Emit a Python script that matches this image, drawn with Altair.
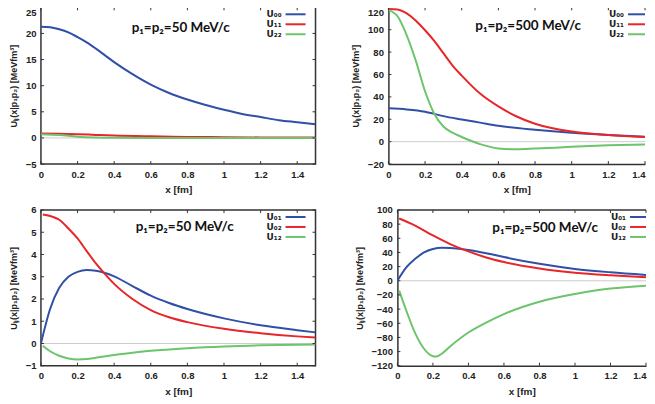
import altair as alt
import pandas as pd

# ---------------- data ----------------
TL_U00_x = [0, 0.05, 0.1, 0.15, 0.2, 0.25, 0.3, 0.35, 0.4, 0.5, 0.6, 0.7, 0.8, 0.9, 1.0, 1.1, 1.2, 1.3, 1.4, 1.5]
TL_U00_y = [21.3, 21.2, 20.8, 20.2, 19.3, 18.3, 17.1, 15.8, 14.5, 12.2, 10.2, 8.6, 7.35, 6.3, 5.4, 4.6, 4.0, 3.4, 3.0, 2.6]
TL_U11_x = [0, 0.1, 0.2, 0.3, 0.4, 0.6, 0.8, 1.0, 1.2, 1.5]
TL_U11_y = [0.85, 0.82, 0.72, 0.58, 0.45, 0.3, 0.2, 0.15, 0.1, 0.07]
TL_U22_x = [0, 0.1, 0.2, 0.3, 0.4, 0.6, 0.8, 1.0, 1.2, 1.5]
TL_U22_y = [0.7, 0.55, 0.25, 0.1, 0.04, 0.01, 0.0, 0.0, 0.0, 0.0]

TR_U00_x = [0, 0.1, 0.2, 0.3, 0.4, 0.5, 0.6, 0.8, 1.0, 1.2, 1.4, 1.5]
TR_U00_y = [29.8, 28.8, 26.8, 22.8, 19.8, 17.0, 14.2, 10.6, 7.9, 6.0, 4.5, 4.0]
TR_U11_x = [0, 0.05, 0.1, 0.15, 0.2, 0.25, 0.3, 0.35, 0.4, 0.5, 0.6, 0.7, 0.8, 1.0, 1.2, 1.4, 1.5]
TR_U11_y = [118.5, 118, 114.5, 108, 99.5, 90, 79, 68, 59, 43, 31.5, 22.5, 16, 9, 6, 4.2, 3.5]
TR_U22_x = [0, 0.05, 0.1, 0.15, 0.2, 0.25, 0.3, 0.35, 0.4, 0.45, 0.5, 0.6, 0.7, 0.8, 1.0, 1.2, 1.4, 1.5]
TR_U22_y = [117.5, 112, 95, 72, 45, 25, 13.6, 8, 4.2, 0.8, -2.2, -6, -6.8, -6.2, -4.6, -3.3, -2.5, -2.2]

BL_U01_x = [0, 0.05, 0.1, 0.15, 0.2, 0.25, 0.3, 0.4, 0.5, 0.6, 0.7, 0.8, 1.0, 1.2, 1.4, 1.5]
BL_U01_y = [0, 1.55, 2.5, 3.0, 3.22, 3.3, 3.27, 3.02, 2.58, 2.15, 1.82, 1.55, 1.13, 0.82, 0.6, 0.5]
BL_U02_x = [0.01, 0.05, 0.1, 0.15, 0.2, 0.25, 0.3, 0.35, 0.4, 0.5, 0.6, 0.7, 0.8, 1.0, 1.2, 1.4, 1.5]
BL_U02_y = [5.8, 5.73, 5.56, 5.17, 4.72, 4.15, 3.6, 3.12, 2.68, 2.0, 1.5, 1.18, 0.96, 0.66, 0.46, 0.32, 0.27]
BL_U12_x = [0.01, 0.05, 0.1, 0.15, 0.2, 0.25, 0.3, 0.4, 0.5, 0.6, 0.8, 1.0, 1.2, 1.4, 1.5]
BL_U12_y = [-0.1, -0.35, -0.55, -0.67, -0.72, -0.7, -0.64, -0.52, -0.42, -0.33, -0.21, -0.13, -0.08, -0.06, -0.05]

BR_U01_x = [0, 0.05, 0.1, 0.15, 0.2, 0.25, 0.3, 0.4, 0.5, 0.6, 0.8, 1.0, 1.2, 1.4, 1.5]
BR_U01_y = [0, 19, 31, 40, 45, 46.8, 46.3, 43.5, 39, 33.5, 24, 16.8, 12, 8.3, 7]
BR_U02_x = [0.01, 0.1, 0.2, 0.3, 0.4, 0.5, 0.6, 0.8, 1.0, 1.2, 1.4, 1.5]
BR_U02_y = [88, 78, 64, 51.5, 41.5, 33, 26.5, 17.5, 11.5, 7.8, 5, 4]
BR_U12_x = [0.01, 0.05, 0.1, 0.15, 0.2, 0.22, 0.25, 0.3, 0.4, 0.5, 0.6, 0.8, 1.0, 1.2, 1.4, 1.5]
BR_U12_y = [-14, -42, -74, -96, -106.5, -107, -103, -92, -73, -59, -47, -29.5, -18.7, -11, -7, -5.5]

X_TICKS = [0, 0.2, 0.4, 0.6, 0.8, 1.0, 1.2, 1.4]
TL_YTICKS = [-5, 0, 5, 10, 15, 20, 25]
TR_YTICKS = [-20, 0, 20, 40, 60, 80, 100, 120]
BL_YTICKS = [-1, 0, 1, 2, 3, 4, 5, 6]
BR_YTICKS = [-120, -100, -80, -60, -40, -20, 0, 20, 40, 60, 80, 100]

TITLE_50 = "p\u2081=p\u2082=50 MeV/c"
TITLE_500 = "p\u2081=p\u2082=500 MeV/c"
Y_TITLE = "U\u1d62\u2c7c(x|p\u2081p\u2082) [MeVfm\u00b3]"

COLORS = ["#3050a8", "#e8262a", "#6cc46c"]
FRAME = "#333333"
LABEL_FONT = "Liberation Sans"


def panel(names, xs, ys, title, ydom, yticks, width, height, xmax, right_clipped,
          top_row, title_pos, leg):
    rows = []
    for n, xv, yv in zip(names, xs, ys):
        for a, b in zip(xv, yv):
            rows.append({"x": a, "v": b, "s": n})
    df = pd.DataFrame(rows)

    xscale = alt.Scale(domain=[0, xmax], nice=False, zero=False)
    yscale = alt.Scale(domain=ydom, nice=False, zero=False)

    xalign = ({"condition": {"test": f"datum.value == {xmax}", "value": "right"},
               "value": "center"} if right_clipped else "center")
    ybase = ({"condition": {"test": f"datum.value == {ydom[1]}", "value": "top"},
              "value": "middle"} if top_row else "middle")
    xaxis = alt.Axis(values=X_TICKS, format="~g", title="x [fm]", ticks=False,
                     grid=False, labelOverlap=False, labelFont=LABEL_FONT,
                     labelFontWeight="bold", labelFontSize=9.5, labelColor="#222",
                     labelPadding=5, labelAlign=xalign,
                     titleFont=LABEL_FONT, titleFontWeight="bold", titleFontSize=10,
                     titleColor="#222", titlePadding=6,
                     domain=right_clipped, domainColor=FRAME, domainWidth=1.5)
    yaxis = alt.Axis(values=yticks, title=Y_TITLE, ticks=False, grid=False,
                     labelOverlap=False, labelFont=LABEL_FONT, labelFontWeight="bold",
                     labelFontSize=9.5, labelColor="#222", labelPadding=5,
                     labelBaseline=ybase,
                     titleFont=LABEL_FONT, titleFontWeight="bold", titleFontSize=9,
                     titleColor="#222", titlePadding=7,
                     domain=right_clipped, domainColor=FRAME, domainWidth=1.5)

    zero = alt.Chart(pd.DataFrame({"z": [0]})).mark_rule(color="#cccccc", strokeWidth=1).encode(
        y=alt.Y("z:Q", scale=yscale, axis=yaxis)
    )

    lines = alt.Chart(df).transform_filter(f"datum.x <= {xmax}").mark_line(
        strokeWidth=2, interpolate="monotone", clip=True).encode(
        x=alt.X("x:Q", scale=xscale, axis=xaxis),
        y=alt.Y("v:Q", scale=yscale, axis=yaxis),
        color=alt.Color("s:N", scale=alt.Scale(domain=names, range=COLORS), legend=None),
        order=alt.Order("x:Q"),
    )

    tx = pd.DataFrame({"t": X_TICKS})
    ty = pd.DataFrame({"t": yticks})
    tick_b = alt.Chart(tx).mark_rule(color=FRAME, strokeWidth=1).encode(
        x=alt.X("t:Q", scale=xscale, axis=xaxis), y=alt.value(height), y2=alt.value(height - 3))
    tick_t = alt.Chart(tx).mark_rule(color=FRAME, strokeWidth=1).encode(
        x=alt.X("t:Q", scale=xscale, axis=xaxis), y=alt.value(0), y2=alt.value(3))
    tick_l = alt.Chart(ty).mark_rule(color=FRAME, strokeWidth=1).encode(
        y=alt.Y("t:Q", scale=yscale, axis=yaxis), x=alt.value(0), x2=alt.value(3))
    layers = [zero, lines, tick_b, tick_t, tick_l]
    if not right_clipped:
        tick_r = alt.Chart(ty).mark_rule(color=FRAME, strokeWidth=1).encode(
            y=alt.Y("t:Q", scale=yscale, axis=yaxis), x=alt.value(width), x2=alt.value(width - 3))
        layers.append(tick_r)
    else:
        top = alt.Chart(pd.DataFrame({"z": [0]})).mark_rule(color=FRAME, strokeWidth=1.5).encode(
            x=alt.value(0), x2=alt.value(width), y=alt.value(0))
        layers.append(top)

    ttl = alt.Chart(pd.DataFrame({"t": [title]})).mark_text(
        font="Lato", fontWeight="bold", fontSize=13.5, color="#111", align="center",
        baseline="middle"
    ).encode(text="t:N", x=alt.value(title_pos[0]), y=alt.value(title_pos[1]))
    layers.append(ttl)

    lab_r, seg0, seg1 = leg
    for i, (n, c) in enumerate(zip(names, COLORS)):
        yy = 7 + 10 * i
        lab = alt.Chart(pd.DataFrame({"t": [n]})).mark_text(
            font="DejaVu Sans", fontWeight="bold", fontSize=9, color="#222",
            align="right", baseline="middle"
        ).encode(text="t:N", x=alt.value(lab_r), y=alt.value(yy))
        seg = alt.Chart(pd.DataFrame({"t": [n]})).mark_rule(color=c, strokeWidth=2).encode(
            x=alt.value(seg0), x2=alt.value(seg1), y=alt.value(yy))
        layers += [lab, seg]

    view = alt.ViewBackground(stroke=None) if right_clipped else alt.ViewBackground(
        stroke=FRAME, strokeWidth=1.5)
    return alt.layer(*layers).properties(width=width, height=height, view=view)


n1 = ["U\u2080\u2080", "U\u2081\u2081", "U\u2082\u2082"]
n2 = ["U\u2080\u2081", "U\u2080\u2082", "U\u2081\u2082"]

tl = panel(n1, [TL_U00_x, TL_U11_x, TL_U22_x], [TL_U00_y, TL_U11_y, TL_U22_y],
           TITLE_50, [-5, 25], TL_YTICKS, 275, 157, 1.5, False, True,
           (140, 21), (241, 245, 265))
tr = panel(n1, [TR_U00_x, TR_U11_x, TR_U22_x], [TR_U00_y, TR_U11_y, TR_U22_y],
           TITLE_500, [-20, 120], TR_YTICKS, 257, 157, 1.4, True, True,
           (140, 19), (236, 240, 257))
bl = panel(n2, [BL_U01_x, BL_U02_x, BL_U12_x], [BL_U01_y, BL_U02_y, BL_U12_y],
           TITLE_50, [-1, 6], BL_YTICKS, 275, 156, 1.5, False, False,
           (144, 17), (241, 245, 265))
br = panel(n2, [BR_U01_x, BR_U02_x, BR_U12_x], [BR_U01_y, BR_U02_y, BR_U12_y],
           TITLE_500, [-120, 100], BR_YTICKS, 249, 156, 1.4, True, False,
           (148, 18), (229, 233, 249))

top_row = alt.hconcat(tl, tr, spacing=73, bounds="flush")
bot_row = alt.hconcat(bl, br, spacing=82, bounds="flush")
chart = alt.vconcat(top_row, bot_row, spacing=8).properties(
    padding={"left": 0, "top": -3, "right": 0, "bottom": 0},
    background="white",
)

chart.save("out.html", embed_options={"renderer": "svg", "actions": False})
